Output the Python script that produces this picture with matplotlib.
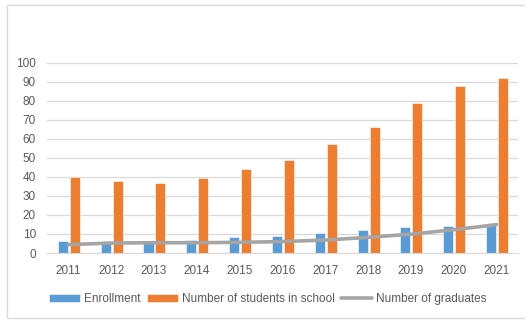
import matplotlib.pyplot as plt
import numpy as np
from matplotlib.patches import Rectangle

years = ['2011', '2012', '2013', '2014', '2015', '2016', '2017', '2018', '2019', '2020', '2021']
enrollment = [6.1, 6.1, 6.0, 7.0, 8.2, 8.7, 10.7, 11.9, 13.8, 14.3, 14.5]
in_school = [40.0, 37.8, 36.7, 39.5, 44.1, 48.8, 57.4, 66.1, 78.9, 87.8, 91.8]
graduates = [4.4, 5.2, 5.4, 5.4, 5.6, 6.0, 6.8, 8.2, 9.9, 12.2, 14.9]

plt.rcParams['font.family'] = ['Liberation Sans', 'DejaVu Sans']

fig = plt.figure(figsize=(5.25, 3.2), dpi=100)
# light chart border
fig.patches.append(Rectangle((7 / 525, 2 / 320), 1, 313 / 320, transform=fig.transFigure,
                             fill=False, edgecolor='#d9d9d9', linewidth=1.0))

ax = fig.add_axes([47 / 525, 67 / 320, 471 / 525, 190.5 / 320])
x = np.arange(len(years))
w = 0.235
b1 = ax.bar(x - 0.13, enrollment, w, color='#5b9bd5', edgecolor='white', linewidth=0.4,
            label='Enrollment', zorder=2)
b2 = ax.bar(x + 0.15, in_school, w, color='#ed7d31', edgecolor='white', linewidth=0.4,
            label='Number of students in school', zorder=2)
l1, = ax.plot(x, graduates, color='#a5a5a5', linewidth=2.6, solid_capstyle='round',
              label='Number of graduates', zorder=3)

ax.set_xlim(-0.5, len(years) - 0.5)
ax.set_ylim(0, 100)
ax.set_yticks(range(0, 101, 10))
ax.set_xticks(x)
ax.set_xticklabels(years)
ax.grid(axis='y', color='#d9d9d9', linewidth=0.9, zorder=0)
for s in ['top', 'right', 'left']:
    ax.spines[s].set_visible(False)
ax.spines['bottom'].set_color('#d9d9d9')
ax.tick_params(length=0, labelsize=8.5, colors='#595959')
ax.tick_params(axis='x', pad=9)
ax.tick_params(axis='y', pad=8)

ax.legend(handles=[b1, b2, l1], loc='center', bbox_to_anchor=(268 / 525, 21 / 320),
          bbox_transform=fig.transFigure, ncol=3, frameon=False, fontsize=8.5,
          labelcolor='#595959', handlelength=2.6, handleheight=0.6, handletextpad=0.4,
          columnspacing=0.5)

fig.savefig('out.png', dpi=100)
